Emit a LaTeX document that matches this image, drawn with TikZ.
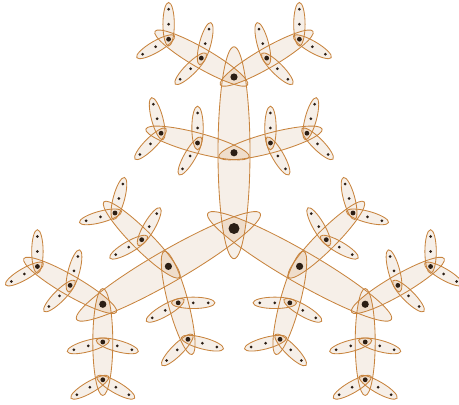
\documentclass[tikz,border=0pt]{standalone}
\definecolor{efill}{HTML}{F6EFE8}
\definecolor{edark}{HTML}{EFDDCB}
\definecolor{eline}{HTML}{C8843E}
\definecolor{vdot}{HTML}{2B1E14}
\def\Cx{234}\def\Cy{176.5}
\def\LA{75.75}\def\LB{37.75}\def\LC{15}
\newcommand\getax[1]{\ifcase#1\or\def\ea{106pt}\def\eb{16pt}\def\st{\LA}\or\def\ea{53.5pt}\def\eb{10pt}\def\st{\LB}\or\def\ea{21.8pt}\def\eb{5.7pt}\def\st{\LC}\fi}
\tikzset{
  hedge/.style={fill=efill},
  hline/.style={draw=eline,line width=0.85pt},
  hdark/.style={fill=edark},
  vbig/.style={fill=vdot}
}
% #1 options, #2 level, #3 x, #4 y, #5 angle
\newcommand\EllCmd[5]{\getax{#2}\path[#1,rotate around={#5:(#3,#4)}] (#3,#4) ellipse [x radius=\ea, y radius=\eb];}
% #1 lvl, #2 Vx, #3 Vy, #4 Ex, #5 Ey, #6 ang, #7 off
\newcommand\DarkAt[7]{%
 \begin{scope}
  \EllCmd{clip}{#1}{#4}{#5}{#6}
  \pgfmathtruncatemacro\nl{#1+1}\getax{\nl}%
  \pgfmathsetmacro\aa{#6+#7}\pgfmathsetmacro\ax{#2+\st*cos(\aa)}\pgfmathsetmacro\ay{#3+\st*sin(\aa)}%
  \pgfmathsetmacro\ab{#6-#7}\pgfmathsetmacro\bx{#2+\st*cos(\ab)}\pgfmathsetmacro\by{#3+\st*sin(\ab)}%
  \EllCmd{clip}{\nl}{\ax}{\ay}{\aa}
  \EllCmd{hdark}{\nl}{\bx}{\by}{\ab}
 \end{scope}}
\newcommand\Traverse{%
\foreach \d in {90,210,330}{%
 \pgfmathsetmacro\Ex{\Cx+\LA*cos(\d)}\pgfmathsetmacro\Ey{\Cy+\LA*sin(\d)}%
 \HkEdge{1}{\Ex}{\Ey}{\d}%
 \foreach \kk/\oA in {1/75,2/60}{%
  \pgfmathsetmacro\Vx{\Cx+\kk*\LA*cos(\d)}\pgfmathsetmacro\Vy{\Cy+\kk*\LA*sin(\d)}%
  \HkVert{1}{\Vx}{\Vy}{\Ex}{\Ey}{\d}{\oA}%
  \foreach \sa in {-1,1}{%
   \pgfmathsetmacro\dd{\d+\sa*\oA}%
   \pgfmathsetmacro\Fx{\Vx+\LB*cos(\dd)}\pgfmathsetmacro\Fy{\Vy+\LB*sin(\dd)}%
   \HkEdge{2}{\Fx}{\Fy}{\dd}%
   \foreach \jj/\oB in {1/75,2/60}{%
    \pgfmathsetmacro\Wx{\Vx+\jj*\LB*cos(\dd)}\pgfmathsetmacro\Wy{\Vy+\jj*\LB*sin(\dd)}%
    \HkVert{2}{\Wx}{\Wy}{\Fx}{\Fy}{\dd}{\oB}%
    \foreach \sb in {-1,1}{%
     \pgfmathsetmacro\ddd{\dd+\sb*\oB}%
     \pgfmathsetmacro\Gx{\Wx+\LC*cos(\ddd)}\pgfmathsetmacro\Gy{\Wy+\LC*sin(\ddd)}%
     \HkEdge{3}{\Gx}{\Gy}{\ddd}%
     \foreach \ii in {1,2}{%
      \pgfmathsetmacro\Xx{\Wx+\ii*\LC*cos(\ddd)}\pgfmathsetmacro\Xy{\Wy+\ii*\LC*sin(\ddd)}%
      \HkLeaf{\Xx}{\Xy}%
}}}}}}}
\begin{document}
\begin{tikzpicture}[x=1pt,y=1pt]
\useasboundingbox (0,0) rectangle (459,405);
% pass 1: fills
\def\HkEdge#1#2#3#4{\EllCmd{hedge}{#1}{#2}{#3}{#4}}
\def\HkVert#1#2#3#4#5#6#7{}
\def\HkLeaf#1#2{}
\Traverse
% pass 2: darker triple overlaps
\pgfmathsetmacro\Pax{\Cx+\LA*cos(90)}\pgfmathsetmacro\Pay{\Cy+\LA*sin(90)}
\pgfmathsetmacro\Pbx{\Cx+\LA*cos(210)}\pgfmathsetmacro\Pby{\Cy+\LA*sin(210)}
\pgfmathsetmacro\Pcx{\Cx+\LA*cos(330)}\pgfmathsetmacro\Pcy{\Cy+\LA*sin(330)}
\begin{scope}
 \EllCmd{clip}{1}{\Pax}{\Pay}{90}
 \EllCmd{clip}{1}{\Pbx}{\Pby}{210}
 \EllCmd{hdark}{1}{\Pcx}{\Pcy}{330}
\end{scope}
\def\HkEdge#1#2#3#4{}
\def\HkVert#1#2#3#4#5#6#7{\DarkAt{#1}{#2}{#3}{#4}{#5}{#6}{#7}}
\Traverse
% pass 3: outlines
\def\HkEdge#1#2#3#4{\EllCmd{hline}{#1}{#2}{#3}{#4}}
\def\HkVert#1#2#3#4#5#6#7{}
\Traverse
% pass 4: vertices
\def\HkEdge#1#2#3#4{}
\def\HkVert#1#2#3#4#5#6#7{\ifcase#1\or\fill[vdot] (#2,#3) circle [radius=3.6pt];\or\fill[vdot] (#2,#3) circle [radius=2.4pt];\fi}
\def\HkLeaf#1#2{\fill[vdot] (#1,#2) circle [radius=1.5pt];}
\Traverse
\coordinate (centre) at (\Cx,\Cy);
\fill[vdot] (centre) circle [radius=5.5pt];
\end{tikzpicture}
\end{document}
